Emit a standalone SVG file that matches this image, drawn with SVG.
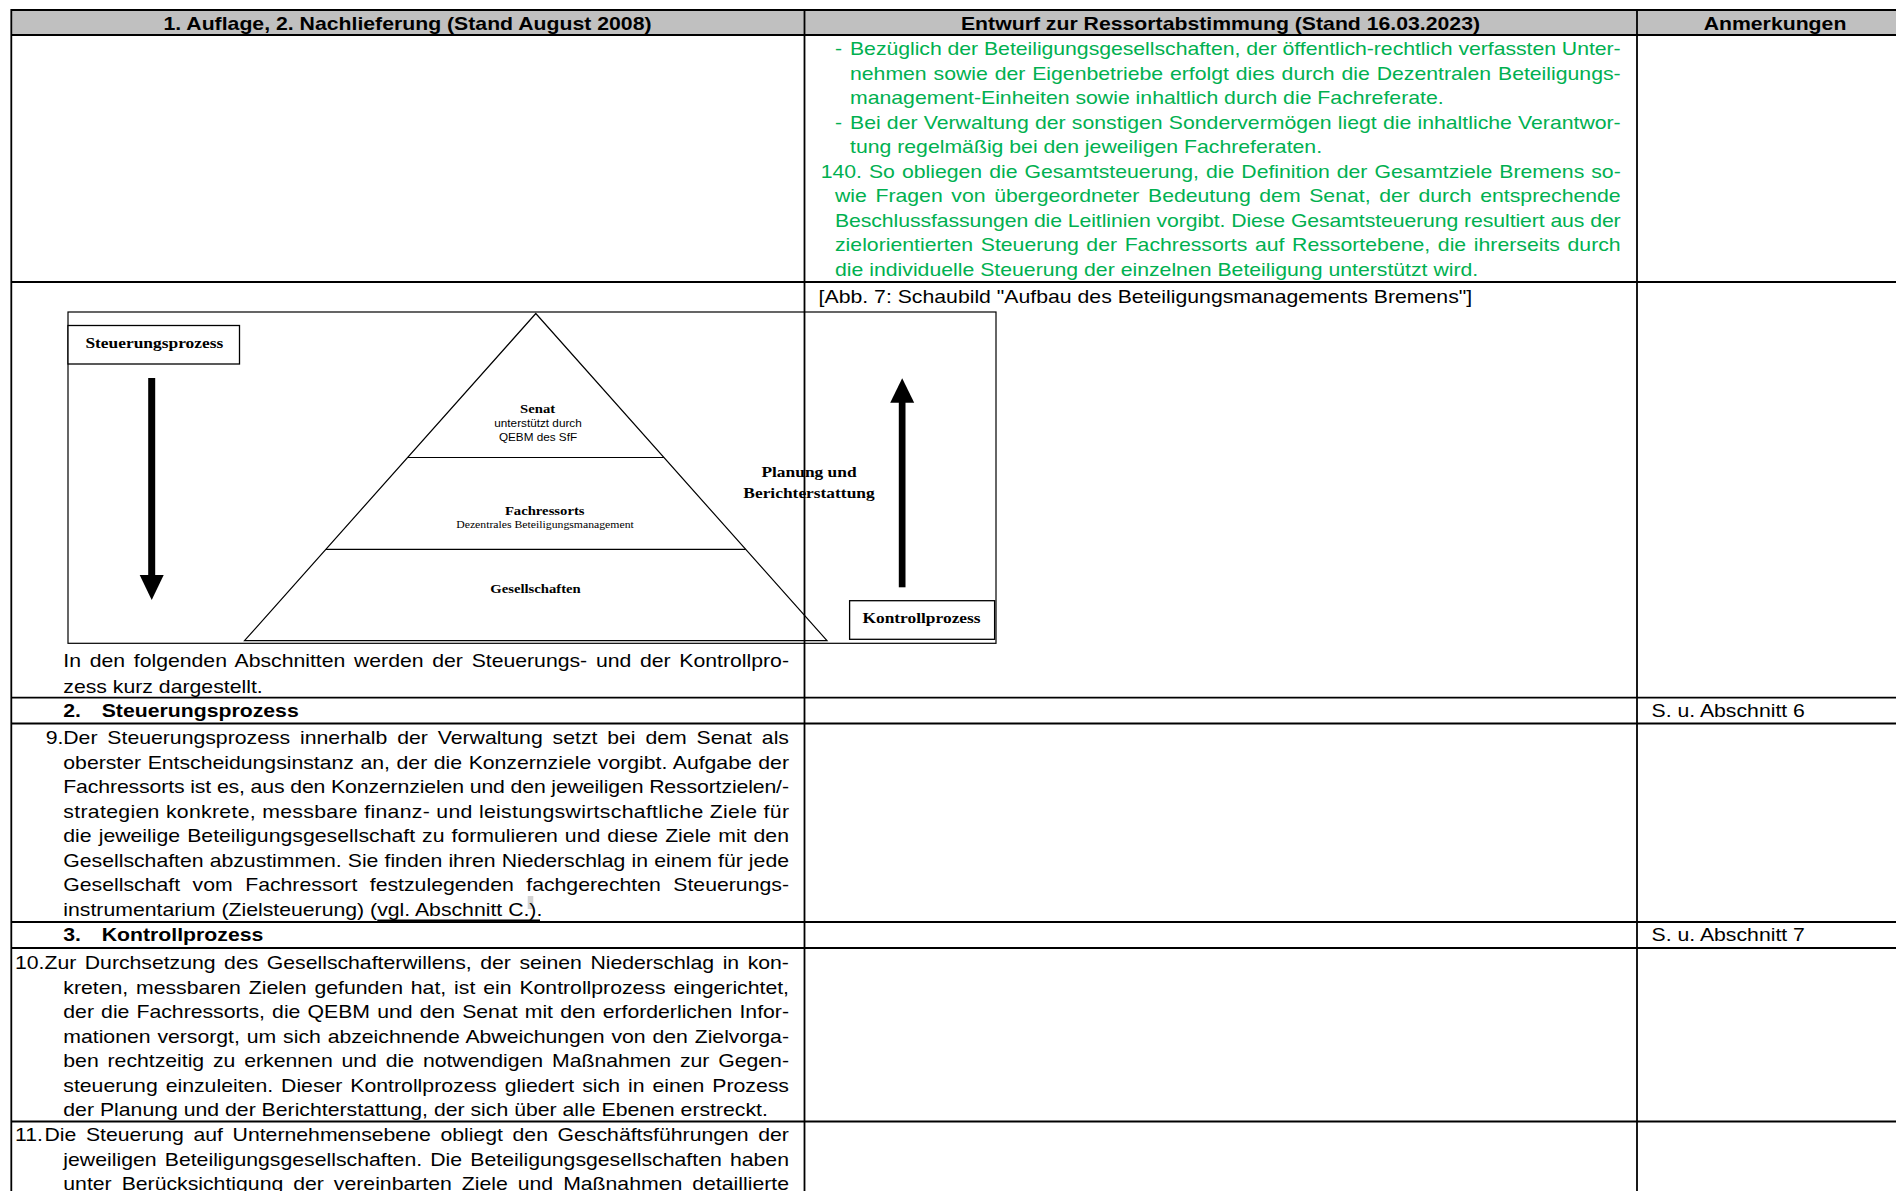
<svg xmlns="http://www.w3.org/2000/svg" width="1896" height="1191" viewBox="0 0 1896 1191">
<style>
text{fill:#000}
.s{font-family:"Liberation Sans",Arial,sans-serif;font-size:18.8px}
.b{font-family:"Liberation Sans",Arial,sans-serif;font-size:18.8px;font-weight:bold}
.g{fill:#00b050}
.c{text-anchor:middle}
.tb{font-family:"Liberation Serif","Times New Roman",serif;font-weight:bold;font-size:15.4px}
.tl{font-family:"Liberation Serif","Times New Roman",serif;font-weight:bold;font-size:13px}
.ts{font-family:"Liberation Serif","Times New Roman",serif;font-size:10.4px}
.as{font-family:"Liberation Sans",Arial,sans-serif;font-size:10.4px}
.grid line{stroke:#000;stroke-width:1.8}
.fig{stroke:#000;fill:none;stroke-width:1.2}
.box{stroke:#000;fill:#fff;stroke-width:1.3}
</style>
<rect width="1896" height="1191" fill="#fff"/>

<!-- figure: pyramid with control / steering arrows -->
<g id="figure">
  <rect class="fig" x="68" y="312" width="928" height="331.3"/>
  <polygon class="fig" points="535.8,313.5 244.5,640.7 827,640.7"/>
  <line class="fig" x1="407.6" y1="457.5" x2="664" y2="457.5"/>
  <line class="fig" x1="325.9" y1="549.3" x2="745.7" y2="549.3"/>
</g>
<g id="node-steuerung">
  <rect class="box" x="68" y="325.5" width="171.5" height="38.5"/>
  <text class="tb c" transform="matrix(1.13 0 0 1 154.3 348.3)">Steuerungsprozess</text>
</g>
<g id="node-kontrolle">
  <rect class="box" x="849.6" y="600.7" width="145" height="38.6"/>
  <text class="tb c" transform="matrix(1.13 0 0 1 921.5 622.7)">Kontrollprozess</text>
</g>
<g id="node-senat">
  <text class="tl c" transform="matrix(1.13 0 0 1 537.6 412.7)">Senat</text>
  <text class="as c" transform="matrix(1.13 0 0 1 538 426.7)">unterstützt durch</text>
  <text class="as c" transform="matrix(1.13 0 0 1 538 440.7)">QEBM des SfF</text>
</g>
<g id="node-fachressorts">
  <text class="tl c" transform="matrix(1.13 0 0 1 544.7 515)">Fachressorts</text>
  <text class="ts c" transform="matrix(1.13 0 0 1 545 528.3)">Dezentrales Beteiligungsmanagement</text>
</g>
<g id="node-gesellschaften">
  <text class="tl c" transform="matrix(1.13 0 0 1 535.5 593.3)">Gesellschaften</text>
</g>
<g id="node-planung">
  <text class="tb c" transform="matrix(1.13 0 0 1 809 477.3)">Planung und</text>
  <text class="tb c" transform="matrix(1.13 0 0 1 809 498.3)">Berichterstattung</text>
</g>
<g id="connectors">
  <rect x="148.2" y="378" width="7" height="197.5" fill="#000"/>
  <polygon points="139.7,575 163.7,575 151.7,600" fill="#000"/>
  <rect x="898.8" y="402" width="6.7" height="185.3" fill="#000"/>
  <polygon points="890.2,402.7 914.2,402.7 902.2,378.3" fill="#000"/>
</g>

<!-- table grid -->
<g class="grid" id="table">
  <rect x="11.3" y="10" width="1885" height="25" fill="#c0c0c0"/>
  <line x1="11.3" y1="10" x2="1896" y2="10"/>
  <line x1="11.3" y1="35" x2="1896" y2="35"/>
  <line x1="11.3" y1="282" x2="1896" y2="282"/>
  <line x1="11.3" y1="697.7" x2="1896" y2="697.7"/>
  <line x1="11.3" y1="723.5" x2="1896" y2="723.5"/>
  <line x1="11.3" y1="922" x2="1896" y2="922"/>
  <line x1="11.3" y1="948" x2="1896" y2="948"/>
  <line x1="11.3" y1="1121.5" x2="1896" y2="1121.5"/>
  <line x1="11.3" y1="9" x2="11.3" y2="1191"/>
  <line x1="804.5" y1="9" x2="804.5" y2="1191"/>
  <line x1="1637" y1="9" x2="1637" y2="1191"/>
</g>

<!-- header -->
<g id="header">
  <text class="b c" transform="matrix(1.13 0 0 1 407.5 29.5)">1. Auflage, 2. Nachlieferung (Stand August 2008)</text>
  <text class="b c" transform="matrix(1.13 0 0 1 1220.5 29.5)">Entwurf zur Ressortabstimmung (Stand 16.03.2023)</text>
  <text class="b c" transform="matrix(1.13 0 0 1 1775 29.5)">Anmerkungen</text>
</g>

<!-- column 2, first row (green); justified lines use word-spacing + textLength -->
<g id="draft-text" class="g">
  <text class="s g" transform="matrix(1.13 0 0 1 835 55)">-</text>
  <text class="s g" transform="matrix(1.13 0 0 1 850 55)" textLength="682" lengthAdjust="spacing">Bezüglich der Beteiligungsgesellschaften, der öffentlich-rechtlich verfassten Unter-</text>
  <text class="s g" transform="matrix(1.13 0 0 1 850 79.5)" style="word-spacing:0.86px" textLength="682" lengthAdjust="spacing">nehmen sowie der Eigenbetriebe erfolgt dies durch die Dezentralen Beteiligungs-</text>
  <text class="s g" transform="matrix(1.13 0 0 1 850 104)">management-Einheiten sowie inhaltlich durch die Fachreferate.</text>
  <text class="s g" transform="matrix(1.13 0 0 1 835 128.5)">-</text>
  <text class="s g" transform="matrix(1.13 0 0 1 850 128.5)" style="word-spacing:0.3px" textLength="682" lengthAdjust="spacing">Bei der Verwaltung der sonstigen Sondervermögen liegt die inhaltliche Verantwor-</text>
  <text class="s g" transform="matrix(1.13 0 0 1 850 153)">tung regelmäßig bei den jeweiligen Fachreferaten.</text>
  <text class="s g" transform="matrix(1.13 0 0 1 820.7 177.5)" style="word-spacing:0.97px" textLength="708" lengthAdjust="spacing">140. So obliegen die Gesamtsteuerung, die Definition der Gesamtziele Bremens so-</text>
  <text class="s g" transform="matrix(1.13 0 0 1 835 202)" style="word-spacing:2.4px" textLength="695.3" lengthAdjust="spacing">wie Fragen von übergeordneter Bedeutung dem Senat, der durch entsprechende</text>
  <text class="s g" transform="matrix(1.13 0 0 1 835 226.5)" textLength="695.3" lengthAdjust="spacing">Beschlussfassungen die Leitlinien vorgibt. Diese Gesamtsteuerung resultiert aus der</text>
  <text class="s g" transform="matrix(1.13 0 0 1 835 251)" style="word-spacing:1.5px" textLength="695.3" lengthAdjust="spacing">zielorientierten Steuerung der Fachressorts auf Ressortebene, die ihrerseits durch</text>
  <text class="s g" transform="matrix(1.13 0 0 1 835 275.5)">die individuelle Steuerung der einzelnen Beteiligung unterstützt wird.</text>
</g>

<!-- second row -->
<g id="row-figure">
  <text class="s" transform="matrix(1.13 0 0 1 818.6 302.7)">[Abb. 7: Schaubild "Aufbau des Beteiligungsmanagements Bremens"]</text>
  <text class="s" transform="matrix(1.13 0 0 1 63.3 666.7)" style="word-spacing:2.5px" textLength="642.2" lengthAdjust="spacing">In den folgenden Abschnitten werden der Steuerungs- und der Kontrollpro-</text>
  <text class="s" transform="matrix(1.13 0 0 1 63.3 692.7)">zess kurz dargestellt.</text>
</g>

<!-- section 2 -->
<g id="section-2">
  <text class="b" transform="matrix(1.13 0 0 1 63.3 717.3)">2.</text>
  <text class="b" transform="matrix(1.13 0 0 1 101.7 717.3)">Steuerungsprozess</text>
  <text class="s" transform="matrix(1.13 0 0 1 1651.5 717.3)">S. u. Abschnitt 6</text>
</g>

<g id="para-9">
  <text class="s" transform="matrix(1.13 0 0 1 45.7 744)">9.</text>
  <text class="s" transform="matrix(1.13 0 0 1 63.3 744)" style="word-spacing:3.5px" textLength="642.2" lengthAdjust="spacing">Der Steuerungsprozess innerhalb der Verwaltung setzt bei dem Senat als</text>
  <text class="s" transform="matrix(1.13 0 0 1 63.3 768.5)" style="word-spacing:0.6px" textLength="642.2" lengthAdjust="spacing">oberster Entscheidungsinstanz an, der die Konzernziele vorgibt. Aufgabe der</text>
  <text class="s" transform="matrix(1.13 0 0 1 63.3 793)" textLength="642.2" lengthAdjust="spacing">Fachressorts ist es, aus den Konzernzielen und den jeweiligen Ressortzielen/-</text>
  <text class="s" transform="matrix(1.13 0 0 1 63.3 817.5)" textLength="642.2" lengthAdjust="spacing">strategien konkrete, messbare finanz- und leistungswirtschaftliche Ziele für</text>
  <text class="s" transform="matrix(1.13 0 0 1 63.3 842)" style="word-spacing:1px" textLength="642.2" lengthAdjust="spacing">die jeweilige Beteiligungsgesellschaft zu formulieren und diese Ziele mit den</text>
  <text class="s" transform="matrix(1.13 0 0 1 63.3 866.5)" style="word-spacing:0.2px" textLength="642.2" lengthAdjust="spacing">Gesellschaften abzustimmen. Sie finden ihren Niederschlag in einem für jede</text>
  <text class="s" transform="matrix(1.13 0 0 1 63.3 891)" style="word-spacing:5.8px" textLength="642.2" lengthAdjust="spacing">Gesellschaft vom Fachressort festzulegenden fachgerechten Steuerungs-</text>
  <rect x="527.7" y="896" width="5.6" height="13" fill="#d4d4d4"/>
  <text class="s" transform="matrix(1.13 0 0 1 63.3 915.5)">instrumentarium (Zielsteuerung) (vgl. Abschnitt C.).</text>
  <line x1="377.3" y1="920.5" x2="540" y2="920.5" stroke="#000" stroke-width="2"/>
</g>

<!-- section 3 -->
<g id="section-3">
  <text class="b" transform="matrix(1.13 0 0 1 63.3 941)">3.</text>
  <text class="b" transform="matrix(1.13 0 0 1 101.7 941)">Kontrollprozess</text>
  <text class="s" transform="matrix(1.13 0 0 1 1651.5 941)">S. u. Abschnitt 7</text>
</g>

<g id="para-10">
  <text class="s" transform="matrix(1.13 0 0 1 15 969)">10.</text>
  <text class="s" transform="matrix(1.13 0 0 1 44.5 969)" style="word-spacing:2.35px" textLength="658.8" lengthAdjust="spacing">Zur Durchsetzung des Gesellschafterwillens, der seinen Niederschlag in kon-</text>
  <text class="s" transform="matrix(1.13 0 0 1 63.3 993.5)" style="word-spacing:1.8px" textLength="642.2" lengthAdjust="spacing">kreten, messbaren Zielen gefunden hat, ist ein Kontrollprozess eingerichtet,</text>
  <text class="s" transform="matrix(1.13 0 0 1 63.3 1018)" style="word-spacing:1.1px" textLength="642.2" lengthAdjust="spacing">der die Fachressorts, die QEBM und den Senat mit den erforderlichen Infor-</text>
  <text class="s" transform="matrix(1.13 0 0 1 63.3 1042.5)" style="word-spacing:0.9px" textLength="642.2" lengthAdjust="spacing">mationen versorgt, um sich abzeichnende Abweichungen von den Zielvorga-</text>
  <text class="s" transform="matrix(1.13 0 0 1 63.3 1067)" style="word-spacing:2.6px" textLength="642.2" lengthAdjust="spacing">ben rechtzeitig zu erkennen und die notwendigen Maßnahmen zur Gegen-</text>
  <text class="s" transform="matrix(1.13 0 0 1 63.3 1091.5)" style="word-spacing:1.8px" textLength="642.2" lengthAdjust="spacing">steuerung einzuleiten. Dieser Kontrollprozess gliedert sich in einen Prozess</text>
  <text class="s" transform="matrix(1.13 0 0 1 63.3 1116)">der Planung und der Berichterstattung, der sich über alle Ebenen erstreckt.</text>
</g>

<g id="para-11">
  <text class="s" transform="matrix(1.13 0 0 1 15 1141)">11.</text>
  <text class="s" transform="matrix(1.13 0 0 1 44.5 1141)" style="word-spacing:3.3px" textLength="658.8" lengthAdjust="spacing">Die Steuerung auf Unternehmensebene obliegt den Geschäftsführungen der</text>
  <text class="s" transform="matrix(1.13 0 0 1 63.3 1165.5)" style="word-spacing:2px" textLength="642.2" lengthAdjust="spacing">jeweiligen Beteiligungsgesellschaften. Die Beteiligungsgesellschaften haben</text>
  <text class="s" transform="matrix(1.13 0 0 1 63.3 1190)" style="word-spacing:3.6px" textLength="642.2" lengthAdjust="spacing">unter Berücksichtigung der vereinbarten Ziele und Maßnahmen detaillierte</text>
</g>
</svg>
